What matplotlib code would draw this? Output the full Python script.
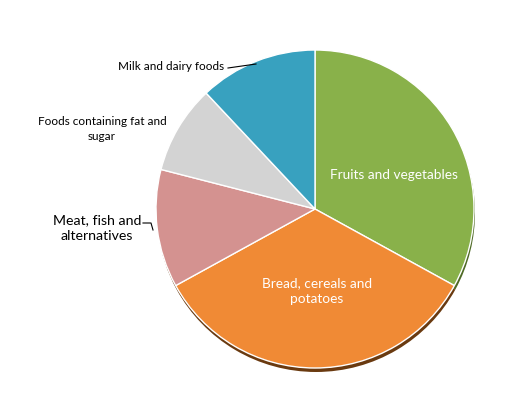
import matplotlib
matplotlib.use("Agg")
import matplotlib.pyplot as plt

# food groups, share of the plate (%)
groups = ["Fruits and vegetables", "Bread, cereals and\npotatoes",
          "Meat, fish and\nalternatives", "Foods containing fat and\nsugar",
          "Milk and dairy foods"]
shares = [33, 34, 12, 9, 12]
colors = ["#89B14A", "#F08A35", "#D49290", "#D3D3D3", "#38A1BF"]
shadow = ["#4E6A25", "#6A3A10", "#6A3A10", "#6A3A10", "#6A3A10"]

fig = plt.figure(figsize=(5.25, 3.94), dpi=100)
ax = fig.add_axes([0, 0, 1, 1])

cx, cy, r = 315, 394 - 209, 159

# shadow under the pie
ax.pie(shares, colors=shadow, startangle=90, counterclock=False,
       center=(cx + 1, cy - 4), radius=r, frame=True,
       wedgeprops=dict(linewidth=0, zorder=1))
ax.pie(shares, colors=colors, startangle=90, counterclock=False,
       center=(cx, cy), radius=r, frame=True,
       wedgeprops=dict(edgecolor="white", linewidth=1, zorder=2))
ax.set_xlim(0, 525)
ax.set_ylim(0, 394)
ax.axis("off")

font = "Lato"
ax.text(394, 394 - 175, groups[0], color="white", fontsize=9.8,
        ha="center", va="center", family=font, zorder=5)
ax.text(317, 394 - 291, groups[1], color="white", fontsize=9.8,
        ha="center", va="center", family=font, linespacing=1.35, zorder=5)
ax.text(97, 394 - 228, groups[2], color="black", fontsize=10.2,
        ha="center", va="center", family=font, linespacing=1.3, zorder=5)
ax.text(102, 394 - 129, groups[3], color="black", fontsize=8.5,
        ha="center", va="center", family=font, linespacing=1.4, zorder=5)
ax.text(224, 394 - 66, groups[4], color="black", fontsize=8.5,
        ha="right", va="center", family=font, zorder=5)

# leader lines
ax.plot([228, 256], [394 - 68, 394 - 64], color="black", lw=0.8, zorder=5)
ax.plot([143, 151, 153], [394 - 223, 394 - 223, 394 - 230], color="black",
        lw=0.8, zorder=5)

fig.savefig("out.png", dpi=100, facecolor="white")
